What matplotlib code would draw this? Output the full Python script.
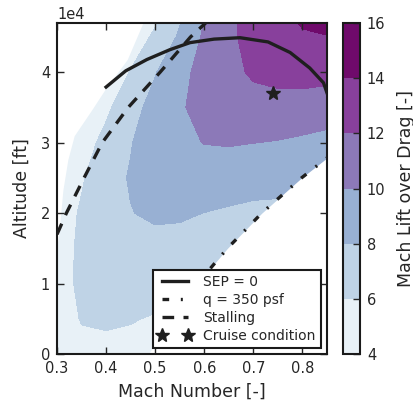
import numpy as np
import matplotlib
matplotlib.use("Agg")
import matplotlib.pyplot as plt

# grilla de Mach y altitud [ft]
mach = [0.30, 0.35, 0.40, 0.45, 0.50, 0.55, 0.60, 0.65, 0.70, 0.75, 0.80, 0.85]
alt = [0, 5000, 10000, 15000, 20000, 25000, 30000, 35000, 40000, 45000, 50000]

# Mach * L/D (filas = altitud, columnas = Mach)
mld = [
    [4.8, 5.5, 5.2, 5.4, 5.2, 4.6, 4.3, 4.0, 3.7, 3.5, 3.2, 3.0],
    [5.1, 6.1, 6.4, 6.11, 5.85, 5.6, 5.3, 5.0, 4.7, 4.4, 4.2, 4.0],
    [5.26, 6.35, 7.1, 7.0, 6.8, 6.6, 6.3, 6.1, 5.8, 5.5, 5.3, 5.0],
    [5.07, 6.4, 7.4, 7.6, 7.6, 7.45, 7.2, 7.0, 6.8, 6.5, 6.3, 6.0],
    [4.6, 6.3, 7.5, 7.96, 8.2, 8.2, 7.98, 7.8, 7.6, 7.5, 7.3, 7.1],
    [4.3, 5.75, 7.5, 8.1, 8.8, 9.0, 9.0, 8.8, 8.7, 8.7, 8.5, 8.3],
    [4.0, 5.1, 6.6, 7.93, 8.8, 9.6, 10.05, 10.15, 10.02, 9.9, 9.7, 9.4],
    [3.6, 4.5, 5.6, 7.4, 8.6, 9.8, 10.6, 11.0, 11.2, 11.3, 11.1, 11.0],
    [3.2, 4.0, 4.7, 6.1, 7.9, 9.4, 10.7, 11.4, 12.3, 12.6, 12.8, 12.6],
    [2.8, 3.5, 4.0, 5.0, 6.3, 8.3, 10.3, 11.5, 12.9, 13.5, 13.85, 13.95],
    [2.4, 3.0, 3.4, 4.2, 5.2, 7.3, 9.7, 11.3, 13.1, 13.9, 14.5, 14.9],
]
niveles = [4, 6, 8, 10, 12, 14, 16]

# limite de la zona valida (arriba a la izquierda)
lim_mach = [0.30, 0.303, 0.312, 0.322, 0.335, 0.371, 0.40, 0.443, 0.475]
lim_alt = [15500, 16600, 23300, 27600, 31000, 34700, 37800, 41800, 47000]

# q = 350 psf
q_mach = [0.486, 0.533, 0.586, 0.647, 0.717, 0.798, 0.853, 0.892]
q_alt = [0, 5000, 10000, 15000, 20000, 25000, 28000, 30000]

# SEP = 0
sep_mach = [0.40, 0.44, 0.483, 0.53, 0.571, 0.62, 0.673, 0.73, 0.775, 0.815, 0.843, 0.85]
sep_alt = [37900, 40200, 41800, 43200, 44200, 44700, 44900, 44300, 42800, 40600, 38500, 37100]

# entrada en perdida
stall_mach = [0.30, 0.319, 0.355, 0.392, 0.445, 0.51, 0.572, 0.603]
stall_alt = [17000, 20000, 25000, 30000, 35000, 40000, 45000, 47000]

# crucero
cruise_mach = [0.74]
cruise_alt = [37000]

gris = "0.12"
plt.rcParams["font.family"] = "DejaVu Sans"
plt.rcParams["text.color"] = "0.15"
plt.rcParams["axes.labelcolor"] = "0.15"
plt.rcParams["xtick.color"] = "0.15"
plt.rcParams["ytick.color"] = "0.15"

fig = plt.figure(figsize=(4.14, 4.09), dpi=100)
ax = fig.add_axes([0.1377, 0.134, 0.652, 0.81])
cax = fig.add_axes([0.8285, 0.134, 0.041, 0.81])

cs = ax.contourf(mach, alt, np.array(mld), levels=niveles, cmap="BuPu", zorder=1)

# zonas fuera de rango en blanco
ax.fill_between(lim_mach, lim_alt, 50000, color="white", lw=0, zorder=1.5)
ax.fill_between(q_mach, q_alt, -2000, color="white", lw=0, zorder=1.5)

ax.plot(sep_mach, sep_alt, color=gris, lw=2.4, label="SEP = 0", zorder=3)
ax.plot(q_mach[1:], q_alt[1:], color=gris, lw=2.4, ls=(0, (2, 3.5, 0.6, 3.5)),
        label="q = 350 psf", zorder=3)
ax.plot(stall_mach, stall_alt, color=gris, lw=2.4, ls=(0, (3.5, 2.8)),
        label="Stalling", zorder=3)
ax.plot(cruise_mach, cruise_alt, ls="none", marker="*", ms=10, color=gris,
        label="Cruise condition", zorder=4)

ax.set_xlim(0.3, 0.85)
ax.set_ylim(0, 47000)
ax.set_xticks([0.3, 0.4, 0.5, 0.6, 0.7, 0.8])
ax.set_yticks([0, 10000, 20000, 30000, 40000])
ax.ticklabel_format(axis="y", style="sci", scilimits=(0, 0))
ax.yaxis.get_offset_text().set_fontsize(10.5)
ax.tick_params(direction="in", top=True, right=True, length=5, width=1,
               labelsize=10.5, pad=5)
for s in ax.spines.values():
    s.set_linewidth(1.5)
    s.set_color("0.1")

ax.set_xlabel("Mach Number [-]", fontsize=12.5, labelpad=5)
ax.set_ylabel("Altitude [ft]", fontsize=12.5, labelpad=7)

leg = ax.legend(loc="lower right", numpoints=2, fontsize=10, fancybox=False,
                framealpha=1, edgecolor="0.1", handlelength=2.5,
                borderaxespad=0.45, labelspacing=0.3, borderpad=0.35)
leg.get_frame().set_linewidth(1.5)

cb = fig.colorbar(cs, cax=cax, ticks=niveles)
cb.outline.set_linewidth(1.5)
cb.outline.set_edgecolor("0.1")
cax.tick_params(direction="in", length=5, width=1, labelsize=10.5, pad=5)
cb.set_label("Mach Lift over Drag [-]", fontsize=12.5, labelpad=8)

fig.savefig("out.png", dpi=100)
